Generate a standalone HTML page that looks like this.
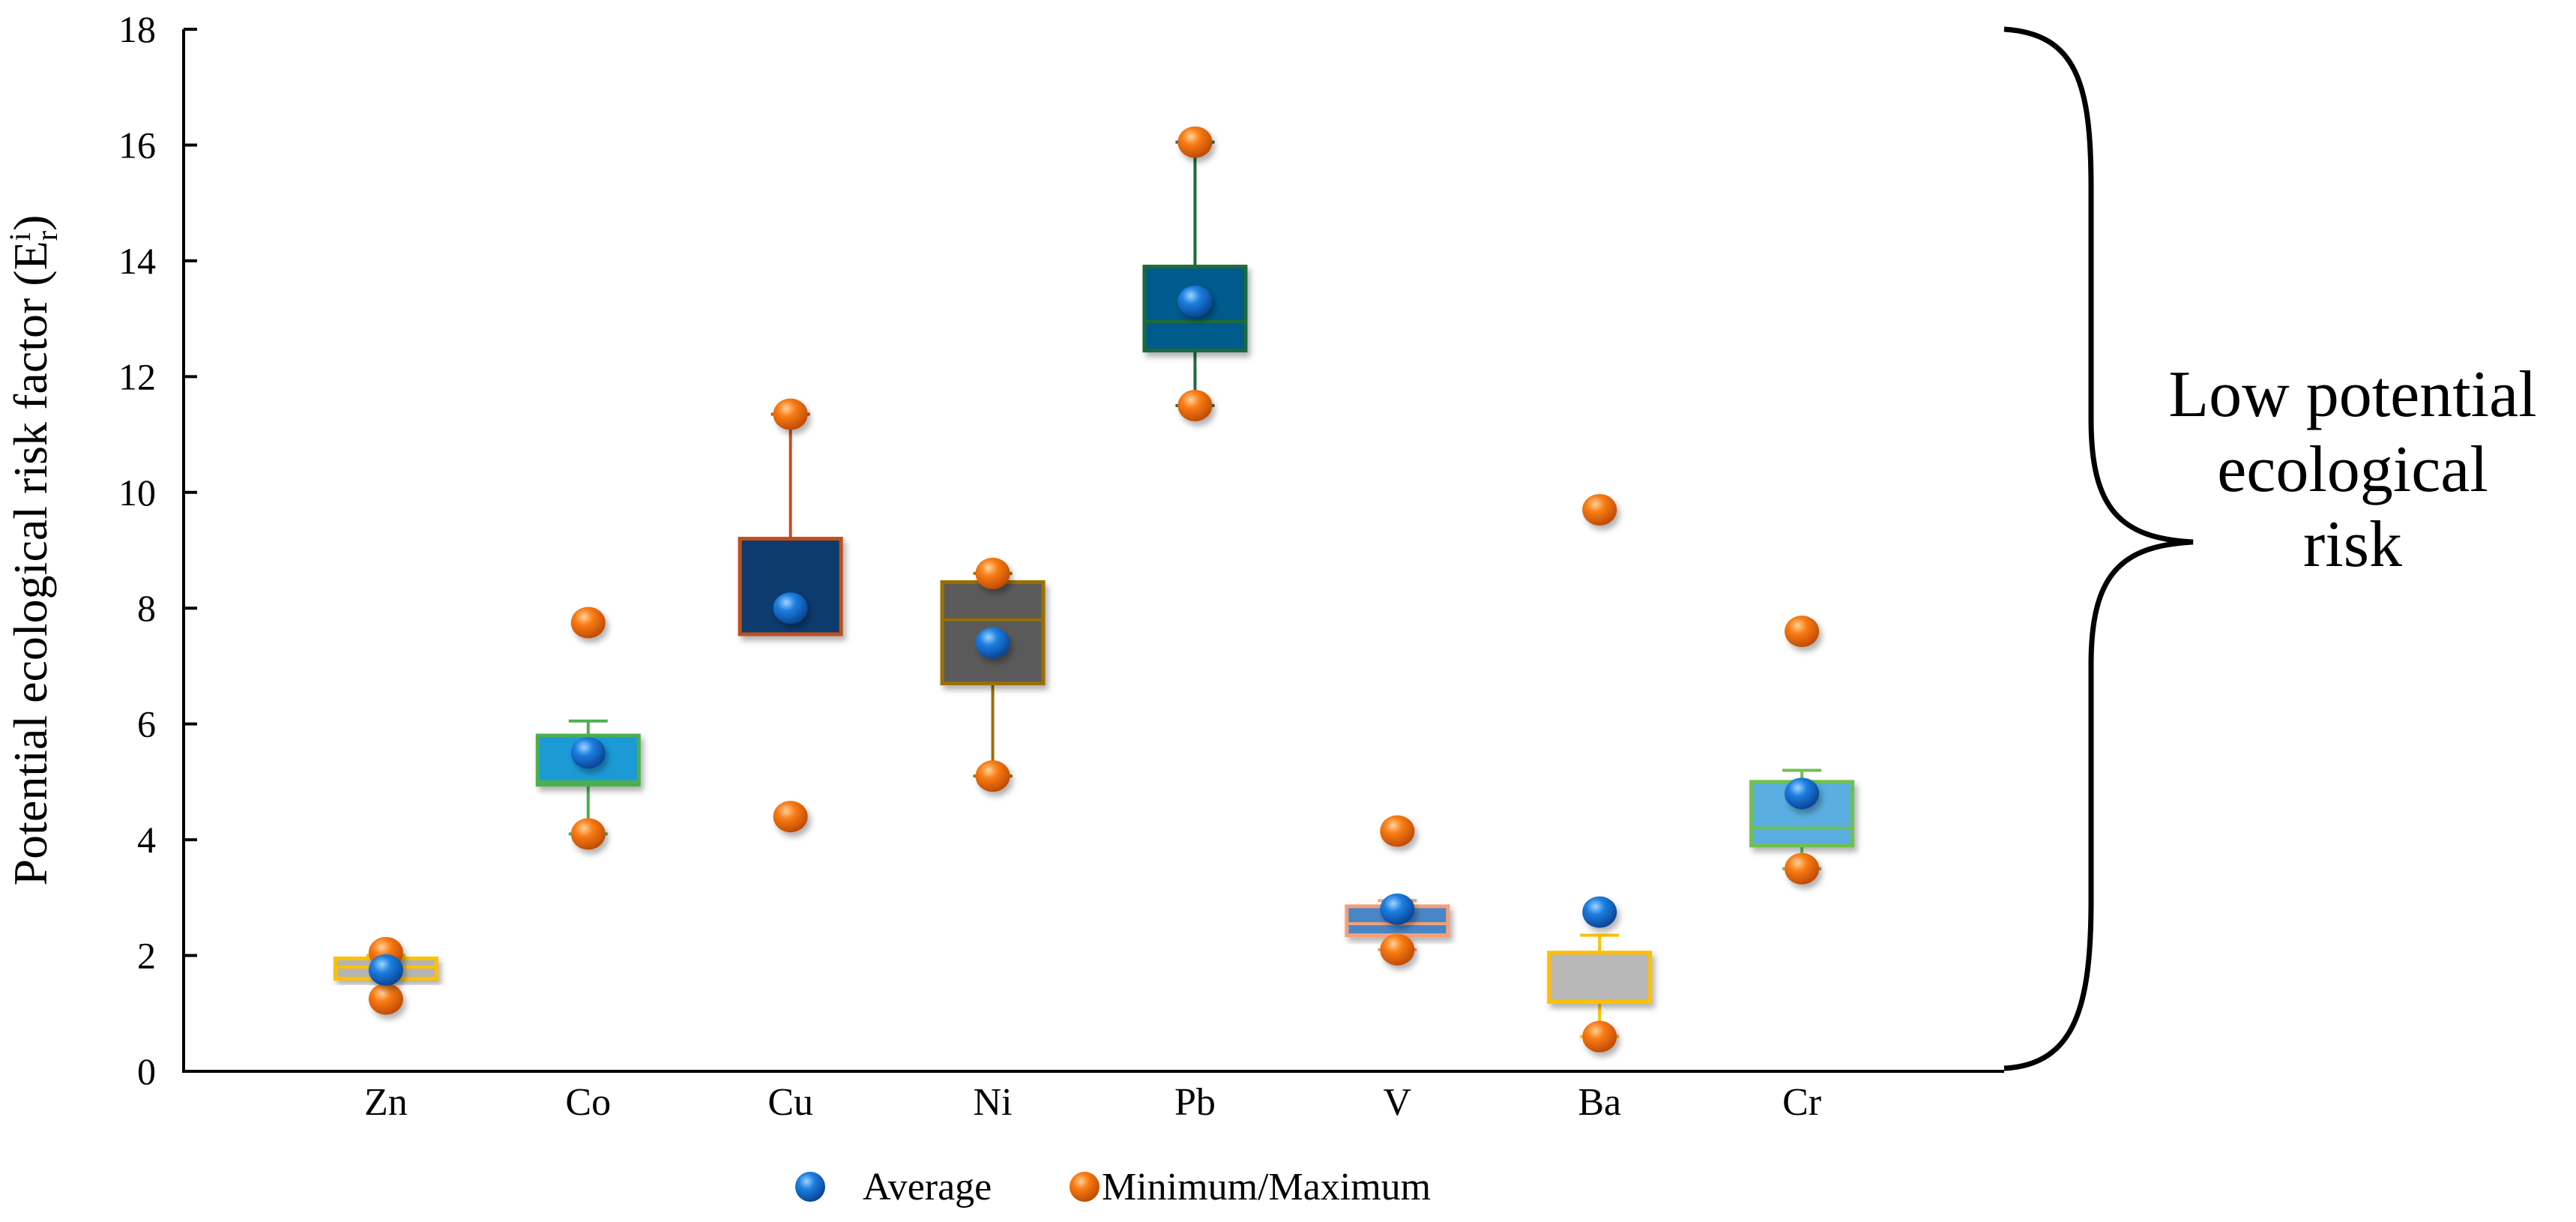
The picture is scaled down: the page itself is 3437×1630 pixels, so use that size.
<!DOCTYPE html>
<html><head><meta charset="utf-8"><style>
html,body{margin:0;padding:0;background:#fff;}
svg{display:block;}
svg text{font-family:"Liberation Serif","Times New Roman",Times,"DejaVu Serif",serif !important;}
</style></head><body>
<svg id="chart" width="3437" height="1630" viewBox="0 0 3437 1630">
<defs>
<radialGradient id="gBlue" cx="0.38" cy="0.32" r="0.75"><stop offset="0" stop-color="#9fd4ff"/><stop offset="0.35" stop-color="#1d7fe0"/><stop offset="1" stop-color="#063c8a"/></radialGradient>
<radialGradient id="gOrange" cx="0.38" cy="0.32" r="0.75"><stop offset="0" stop-color="#ffd29a"/><stop offset="0.35" stop-color="#f97c14"/><stop offset="1" stop-color="#b84400"/></radialGradient>
<filter id="sh" x="-30%" y="-30%" width="160%" height="160%"><feDropShadow dx="4" dy="6" stdDeviation="4" flood-color="#000" flood-opacity="0.3"/></filter>
</defs>
<g id="plot"></g>
<text x="62" y="734" transform="rotate(-90 62 734)" text-anchor="middle" font-size="64">Potential ecological risk factor (E<tspan dy="-22" font-size="40">i</tspan><tspan dy="36" dx="-11" font-size="40">r</tspan><tspan dy="-14">)</tspan></text>
<path d="M2674,39 C2770,45 2790,110 2790,250 L2790,560 C2790,680 2830,718 2926,723 C2830,728 2790,766 2790,886 L2790,1200 C2790,1340 2770,1420 2674,1425" fill="none" stroke="#000" stroke-width="7"/>
<text x="3139" y="555" text-anchor="middle" font-size="88">Low potential</text>
<text x="3139" y="655" text-anchor="middle" font-size="88">ecological</text>
<text x="3139" y="755" text-anchor="middle" font-size="88">risk</text>
<circle cx="1081" cy="1583" r="20" fill="url(#gBlue)"/>
<text x="1151" y="1600" font-size="52">Average</text>
<circle cx="1447" cy="1583" r="20" fill="url(#gOrange)"/>
<text x="1470" y="1600" font-size="52">Minimum/Maximum</text>
</svg>
<script>
const categories=["Zn","Co","Cu","Ni","Pb","V","Ba","Cr"];
const q1=[1.6,4.95,7.55,6.7,12.45,2.35,1.2,3.9];
const q3=[1.95,5.8,9.2,8.45,13.9,2.85,2.05,5.0];
const medians=[1.8,5.0,7.55,7.8,12.95,2.55,1.2,4.2];
const whiskerLow=[1.6,4.1,7.55,5.1,11.5,2.1,0.6,3.5];
const whiskerHigh=[2.0,6.05,11.35,8.6,16.05,2.95,2.35,5.2];
const averages=[1.75,5.5,8.0,7.4,13.3,2.8,2.75,4.8];
const minimums=[1.25,4.1,4.4,5.1,11.5,2.1,0.6,3.5];
const maximums=[2.05,7.75,11.35,8.6,16.05,4.15,9.7,7.6];
const yTicks=[0,2,4,6,8,10,12,14,16,18];
const fills=["#b4b4b4","#1a9ad6","#073b6e","#5a5a5a","#005a8c","#4a86c6","#b8b8b8","#5aaee0"];
const strokes=["#ffc000","#4caf50","#c0501f","#9a7000","#1e6b3a","#f4a07a","#ffc000","#70c050"];

const X0=245,X1=2674,Y0=1429,Y1=39,YMAX=18;
const xs=i=>X0+(i+1)*(X1-X0)/(categories.length+1);
const ys=v=>Y0-v/YMAX*(Y0-Y1);
const NS="http://www.w3.org/2000/svg";
const g=document.getElementById("plot");
function mk(t,a,p){const e=document.createElementNS(NS,t);for(const k in a)e.setAttribute(k,a[k]);(p||g).appendChild(e);return e;}

const ax=mk("path",{d:`M${X0},${Y1} L${X0},${Y0} L${X1},${Y0}`,fill:"none",stroke:"#000","stroke-width":4});


yTicks.forEach(t=>{
  const tk=mk("line",{x1:X0,x2:X0+18,y1:ys(t),y2:ys(t),stroke:"#000","stroke-width":4});
  
  
  const tl=mk("text",{x:208,y:ys(t)+17,"text-anchor":"end","font-size":50});
  tl.textContent=t;
  
  
});
categories.forEach((c,i)=>{
  const x=xs(i),w=135;
  const lab=mk("text",{x:x,y:1487,"text-anchor":"middle","font-size":52});
  lab.textContent=c;
  
  
  const wg=mk("g",{stroke:strokes[i],"stroke-width":4});
  
  
  if(whiskerHigh[i]>q3[i]){mk("line",{x1:x,x2:x,y1:ys(q3[i]),y2:ys(whiskerHigh[i])},wg);mk("line",{x1:x-26,x2:x+26,y1:ys(whiskerHigh[i]),y2:ys(whiskerHigh[i])},wg);}
  if(whiskerLow[i]<q1[i]){mk("line",{x1:x,x2:x,y1:ys(q1[i]),y2:ys(whiskerLow[i])},wg);mk("line",{x1:x-26,x2:x+26,y1:ys(whiskerLow[i]),y2:ys(whiskerLow[i])},wg);}
  const b=mk("rect",{x:x-w/2,y:ys(q3[i]),width:w,height:ys(q1[i])-ys(q3[i]),fill:fills[i],stroke:strokes[i],"stroke-width":5,filter:"url(#sh)"});
  
  
  const m=mk("line",{x1:x-w/2,x2:x+w/2,y1:ys(medians[i]),y2:ys(medians[i]),stroke:strokes[i],"stroke-width":4});
  
  
  [minimums[i],maximums[i]].forEach((v,j)=>{
    const p=mk("ellipse",{cx:x,cy:ys(v),rx:23,ry:21,fill:"url(#gOrange)",filter:"url(#sh)"});
    
    
  });
  const a=mk("ellipse",{cx:x,cy:ys(averages[i]),rx:23,ry:21,fill:"url(#gBlue)",filter:"url(#sh)"});
  
  
});
</script>
</body></html>
